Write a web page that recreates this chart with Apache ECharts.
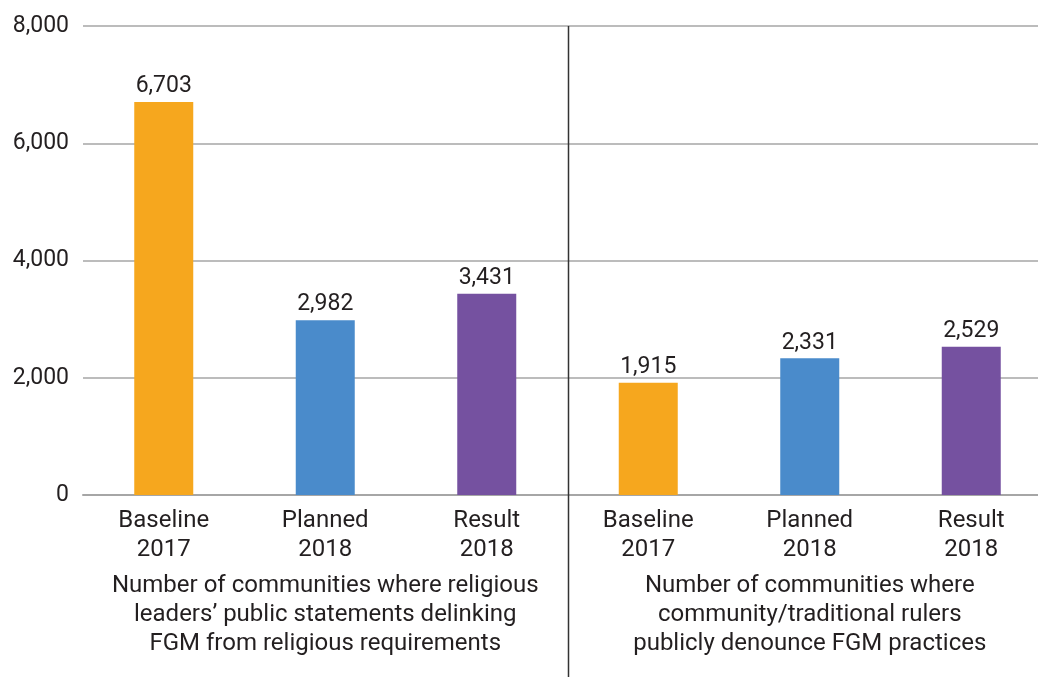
<!DOCTYPE html>
<html>
<head>
<meta charset="utf-8">
<script src="https://cdn.jsdelivr.net/npm/echarts@6/dist/echarts.min.js"></script>
<style>
html,body{margin:0;padding:0;background:#fff;}
#chart{width:1038px;height:677px;}
</style>
</head>
<body>
<div id="chart"></div>
<script>
const categories = ['Baseline\n2017', 'Planned\n2018', 'Result\n2018', 'Baseline\n2017', 'Planned\n2018', 'Result\n2018'];
const values = [6703, 2982, 3431, 1915, 2331, 2529];
const barColors = ['#F6A71E', '#4A8BCB', '#7551A0', '#F6A71E', '#4A8BCB', '#7551A0'];
const groupLabels = [
  'Number of communities where religious\nleaders\u2019 public statements delinking\nFGM from religious requirements',
  'Number of communities where\ncommunity/traditional rulers\npublicly denounce FGM practices'
];
const yMin = 0, yMax = 8000, yInterval = 2000;

const font = 'Roboto, "Noto Sans", sans-serif';
const textColor = '#231F20';
const gridColor = '#A6A6A6';

const chart = echarts.init(document.getElementById('chart'));
const option = {
  animation: false,
  grid: { left: 83, top: 26, right: -14, bottom: 182, containLabel: false, outerBoundsMode: 'none' },
  xAxis: [
    {
      type: 'category',
      data: categories,
      position: 'bottom',
      axisLine: { show: true, lineStyle: { color: gridColor, width: 2 } },
      axisTick: { show: false },
      axisLabel: { interval: 0, color: textColor, fontFamily: font, fontSize: 24, lineHeight: 29, margin: 11 }
    },
    {
      type: 'category',
      data: groupLabels,
      position: 'bottom',
      offset: 76,
      axisLine: { show: false },
      axisTick: { show: false },
      splitLine: { show: false },
      axisLabel: { interval: 0, color: textColor, fontFamily: font, fontSize: 24, lineHeight: 29, margin: 0 }
    }
  ],
  yAxis: {
    type: 'value',
    min: yMin, max: yMax, interval: yInterval,
    axisLine: { show: false },
    axisTick: { show: false },
    splitLine: { lineStyle: { color: gridColor, width: 1.5 } },
    axisLabel: {
      color: textColor, fontFamily: font, fontSize: 23, margin: 14,
      formatter: v => v.toLocaleString('en-US')
    }
  },
  series: [{
    type: 'bar',
    xAxisIndex: 0,
    barWidth: 59,
    data: values.map((v, i) => ({ value: v, itemStyle: { color: barColors[i] } })),
    label: {
      show: true, position: 'top', distance: 4,
      color: textColor, fontFamily: font, fontSize: 23,
      formatter: p => p.value.toLocaleString('en-US')
    }
  }]
};
chart.setOption(option);

// divider between the two groups
const x2 = chart.convertToPixel({ xAxisIndex: 0 }, 2);
const x3 = chart.convertToPixel({ xAxisIndex: 0 }, 3);
const xDiv = Math.round((x2 + x3) / 2) + 0.5;
const yTop = chart.convertToPixel({ yAxisIndex: 0 }, yMax);
chart.setOption({
  graphic: [{
    type: 'line',
    shape: { x1: xDiv, y1: yTop, x2: xDiv, y2: 677 },
    style: { stroke: '#333333', lineWidth: 1.5 },
    z: 10
  }]
});
</script>
</body>
</html>
